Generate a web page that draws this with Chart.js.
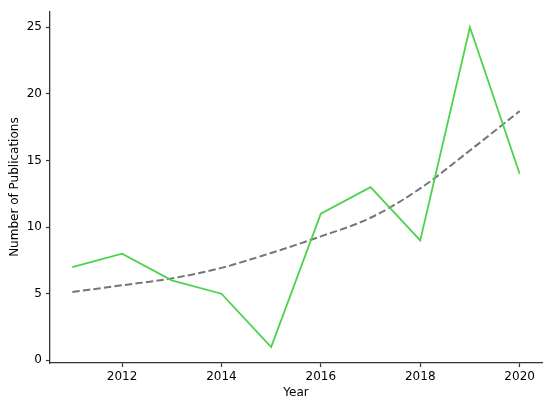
<!DOCTYPE html>
<html>
<head>
<meta charset="utf-8">
<script src="https://cdn.jsdelivr.net/npm/chart.js@4/dist/chart.umd.min.js"></script>
<style>
html,body{margin:0;padding:0;background:#fff;}
#wrap{width:550px;height:403px;position:relative;}
</style>
</head>
<body>
<div id="wrap"><canvas id="c" width="550" height="403"></canvas></div>
<script>
const years = [2011, 2012, 2013, 2014, 2015, 2016, 2017, 2018, 2019, 2020];
const publications = [7, 8, 6, 5, 1, 11, 13, 9, 25, 14];
const trend = [5.13, 5.63, 6.15, 6.94, 8.06, 9.3, 10.7, 12.9, 15.75, 18.7];
const xTicks = [2012, 2014, 2016, 2018, 2020];
const yTicks = [0, 5, 10, 15, 20, 25];

const font = {family: 'DejaVu Sans', size: 12};
Chart.defaults.font.family = 'DejaVu Sans';
Chart.defaults.color = '#000';

new Chart(document.getElementById('c'), {
  type: 'line',
  data: {
    datasets: [
      {
        label: 'Publications',
        data: years.map((y, i) => ({x: y, y: publications[i]})),
        borderColor: '#4dd24d',
        borderWidth: 1.8,
        pointRadius: 0,
        tension: 0,
        fill: false
      },
      {
        label: 'Trend',
        data: years.map((y, i) => ({x: y, y: trend[i]})),
        borderColor: '#767676',
        borderWidth: 2,
        borderDash: [7.4, 3.2],
        pointRadius: 0,
        cubicInterpolationMode: 'monotone',
        fill: false
      }
    ]
  },
  options: {
    responsive: false,
    animation: false,
    devicePixelRatio: 1,
    layout: {padding: {top: 5, right: 8, left: 0, bottom: 0}},
    plugins: {legend: {display: false}, tooltip: {enabled: false}},
    scales: {
      x: {
        type: 'linear',
        min: 2010.55,
        max: 2020.45,
        afterBuildTicks: s => { s.ticks = xTicks.map(v => ({value: v})); },
        afterFit: s => { s.height = 40; },
        ticks: {font: font, color: '#000', padding: 3, maxRotation: 0, callback: v => String(v)},
        grid: {display: true, drawOnChartArea: false, drawTicks: true, tickLength: 4, tickColor: '#333', tickWidth: 1.2},
        border: {display: true, color: '#333', width: 1.3},
        title: {display: true, text: 'Year', font: font, color: '#000', padding: {top: 0, bottom: 3}}
      },
      y: {
        type: 'linear',
        min: -0.2,
        max: 26.2,
        afterBuildTicks: s => { s.ticks = yTicks.map(v => ({value: v})); },
        afterFit: s => { s.width = 50; },
        ticks: {font: font, color: '#000', padding: 4, callback: v => String(v)},
        grid: {display: true, drawOnChartArea: false, drawTicks: true, tickLength: 4, tickColor: '#333', tickWidth: 1.2},
        border: {display: true, color: '#333', width: 1.3},
        title: {display: true, text: 'Number of Publications', font: font, color: '#000', padding: {top: 8, bottom: 0}}
      }
    }
  }
});
</script>
</body>
</html>
